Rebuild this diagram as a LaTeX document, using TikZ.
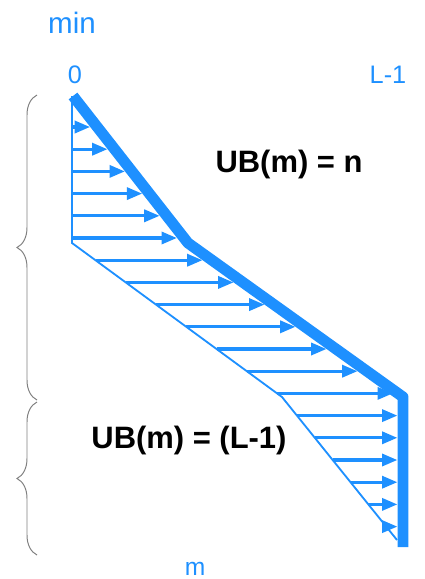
\documentclass[tikz,border=0pt]{standalone}
\usepackage{fontspec}
\setmainfont{Liberation Sans}
\definecolor{ubblue}{RGB}{30,144,255}
\definecolor{ubgray}{RGB}{128,128,128}
\usetikzlibrary{arrows.meta,decorations.pathreplacing}

\begin{document}
\begin{tikzpicture}[x=0.025cm, y=-0.025cm,
  axislabel/.style={text=ubblue, anchor=base, inner sep=0pt},
  boundlabel/.style={font=\fontsize{22}{26}\selectfont\bfseries, anchor=base, inner sep=0pt},
  bound/.style={ubblue, line width=7.8pt, line join=round},
  limit/.style={ubblue, line width=1.3pt},
  hatch/.style={ubblue, line width=2.4pt, -{Triangle[length=11pt, width=8.5pt]}},
  spanbrace/.style={ubgray, line width=0.7pt, decorate, decoration={brace, amplitude=0.5cm}}]
  \useasboundingbox (0,0) rectangle (424,579);

  % labels
  \node[axislabel, font=\fontsize{21}{25}\selectfont] (min) at (72,33) {min};
  \node[axislabel, font=\fontsize{18}{22}\selectfont] (zero) at (75,83) {0};
  \node[axislabel, font=\fontsize{18}{22}\selectfont] (last) at (388,83) {L-1};
  \node[axislabel, font=\fontsize{17.5}{21}\selectfont] (m) at (195,575) {m};
  \node[boundlabel] (ubn) at (289,172) {UB(m) = n};
  \node[boundlabel] (ubl) at (189,448) {UB(m) = (L-1)};

  % corners of the two curves
  \coordinate (t0) at (73,96);
  \coordinate (t1) at (188,243);
  \coordinate (t2) at (403,397);
  \coordinate (t3) at (403,547);
  \coordinate (s0) at (72,96);
  \coordinate (s1) at (72,243);
  \coordinate (s2) at (282,397);
  \coordinate (s3) at (397,540);

  % horizontal arrows
  \foreach \y/\xs/\xe in {127/72/90.2, 149.2/72/107.6, 171.4/72/125, 193.6/72/142.3,
      215.8/72/159.7, 238/72/177, 260.2/95.5/202.6, 282.4/125.7/233.6,
      304.6/156/264.6, 326.8/186.3/295.6, 349/216.6/326.6, 371.2/246.9/357.6,
      393.4/277.1/393, 415.6/297/397.5, 437.8/314.8/397.5, 460/332.6/397.5,
      482.2/350.5/397.5, 504.4/368.3/397.5, 526.6/386.2/397.5}
    \draw[hatch] (\xs,\y) -- (\xe,\y);

  \draw[limit] (s0) -- (s1) -- (s2) -- (s3);
  \draw[bound] (t0) -- (t1) -- (t2) -- (t3);

  % braces
  \coordinate (b0) at (37,95);
  \coordinate (b1) at (37,400);
  \coordinate (b2) at (37,402);
  \coordinate (b3) at (37,555);
  \draw[spanbrace] (b1) -- (b0);
  \draw[spanbrace] (b3) -- (b2);
\end{tikzpicture}
\end{document}
